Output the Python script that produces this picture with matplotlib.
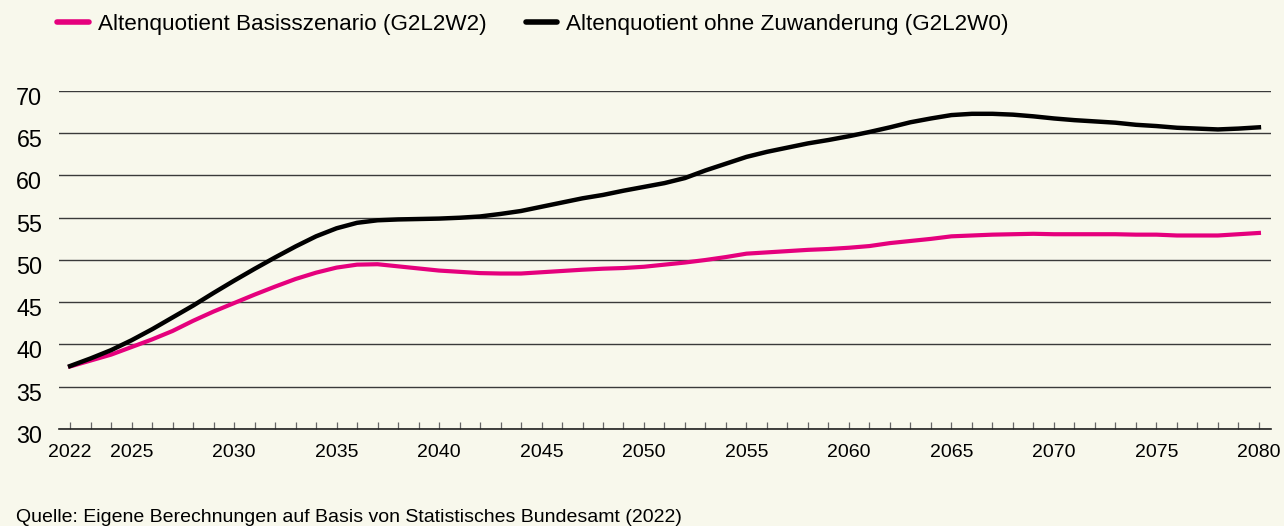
import matplotlib
matplotlib.use("Agg")
import matplotlib.pyplot as plt
import matplotlib.transforms as mtransforms

# --- data ----------------------------------------------------------------------
years = list(range(2022, 2081))

basis_g2l2w2 = [
    37.4, 38.1, 38.8, 39.7, 40.6, 41.6, 42.8, 43.9, 44.9, 45.9,   # 2022-2031
    46.85, 47.75, 48.5, 49.1, 49.45, 49.5, 49.25, 49.0, 48.75, 48.6,  # 2032-2041
    48.45, 48.4, 48.4, 48.55, 48.7, 48.85, 48.97, 49.05, 49.2, 49.45,  # 2042-2051
    49.7, 50.0, 50.35, 50.75, 50.9, 51.05, 51.2, 51.3, 51.45, 51.65,   # 2052-2061
    52.0, 52.25, 52.5, 52.8, 52.9, 53.0, 53.05, 53.1, 53.05, 53.05,    # 2062-2071
    53.05, 53.05, 53.0, 53.0, 52.9, 52.9, 52.9, 53.05, 53.2,           # 2072-2080
]

ohne_zuwanderung_g2l2w0 = [
    37.45, 38.35, 39.33, 40.5, 41.8, 43.2, 44.6, 46.1, 47.55, 48.95,  # 2022-2031
    50.3, 51.6, 52.8, 53.75, 54.4, 54.7, 54.8, 54.85, 54.9, 55.0,     # 2032-2041
    55.15, 55.45, 55.8, 56.3, 56.8, 57.3, 57.7, 58.2, 58.65, 59.1,    # 2042-2051
    59.7, 60.6, 61.4, 62.2, 62.8, 63.3, 63.8, 64.2, 64.65, 65.15,     # 2052-2061
    65.7, 66.3, 66.75, 67.15, 67.3, 67.3, 67.2, 67.0, 66.75, 66.55,   # 2062-2071
    66.4, 66.25, 66.0, 65.85, 65.65, 65.55, 65.45, 65.55, 65.7,       # 2072-2080
]

label_basis = "Altenquotient Basisszenario (G2L2W2)"
label_ohne = "Altenquotient ohne Zuwanderung (G2L2W0)"
source_text = "Quelle: Eigene Berechnungen auf Basis von Statistisches Bundesamt (2022)"

x_ticklabels = [2022, 2025, 2030, 2035, 2040, 2045, 2050, 2055, 2060, 2065,
                2070, 2075, 2080]
y_ticks = [30, 35, 40, 45, 50, 55, 60, 65, 70]

# --- styling ---------------------------------------------------------------------
BG = "#f8f8ec"
PINK = "#e5007d"
plt.rcParams["font.family"] = ["Liberation Sans", "DejaVu Sans"]

fig = plt.figure(figsize=(12.84, 5.26), dpi=100, facecolor=BG)
ax = fig.add_axes([0.04595, 0.18441, 0.94393, 0.6426], facecolor=BG)

ax.plot(years, basis_g2l2w2, color=PINK, lw=3, label=label_basis, zorder=3)
ax.plot(years, ohne_zuwanderung_g2l2w0, color="black", lw=3.2, label=label_ohne,
        zorder=4)

ax.set_xlim(2021.46, 2080.59)
ax.set_ylim(30, 70)
ax.set_yticks(y_ticks)
ax.set_xticks(x_ticklabels)
ax.set_xticks(years, minor=True)

ax.yaxis.grid(True, color="#3a3a3a", lw=1.0)
ax.set_axisbelow(True)
for side in ("top", "right", "left"):
    ax.spines[side].set_visible(False)
ax.spines["bottom"].set_color("#222222")
ax.spines["bottom"].set_linewidth(1.2)

ax.tick_params(axis="y", length=0, labelsize=16.8, pad=12)
ax.tick_params(axis="x", which="both", direction="in", length=5, width=0.9,
               color="#666666", labelsize=14, pad=11)
# y labels sit a little below their gridline in the original
shift = mtransforms.ScaledTranslation(0, -5 / 100, fig.dpi_scale_trans)
for lbl in ax.get_yticklabels():
    lbl.set_transform(lbl.get_transform() + shift)

leg = fig.legend(loc="center left", bbox_to_anchor=(57 / 1284, 0.954), ncol=2,
                 frameon=False, fontsize=16.2, handlelength=1.4,
                 handletextpad=0.4, columnspacing=1.75, borderpad=0,
                 borderaxespad=0)
for h in leg.get_lines():
    h.set_solid_capstyle("round")
    h.set_linewidth(4)

fig.text(16 / 1284, 1 - 517 / 526, source_text, fontsize=14.0, va="center",
         ha="left")

fig.savefig("out.png", dpi=100, facecolor=BG)
